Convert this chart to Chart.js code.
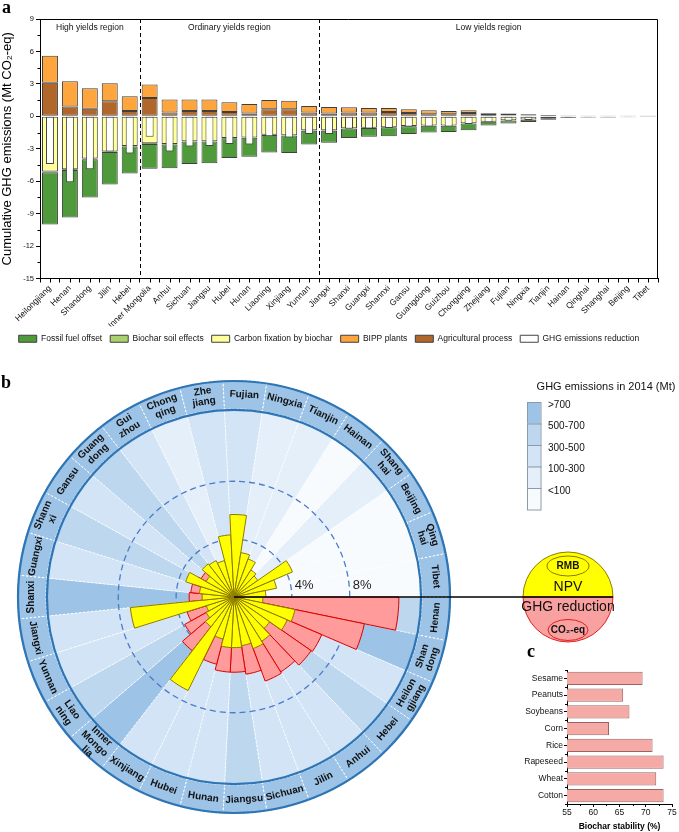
<!DOCTYPE html>
<html><head><meta charset="utf-8">
<script src="https://cdn.jsdelivr.net/npm/chart.js@4.4.1/dist/chart.umd.min.js"></script>
<style>
html,body{margin:0;padding:0;background:#fff}
body{position:relative;width:679px;height:832px;overflow:hidden}
canvas{position:absolute;display:block}
</style></head><body>
<canvas id="ca" width="679" height="358" style="left:0;top:0"></canvas>
<canvas id="cb" width="679" height="462" style="left:0;top:370px"></canvas>
<canvas id="cc" width="199" height="192" style="left:480px;top:640px"></canvas>
<script>
Chart.defaults.font.family = '"Liberation Sans", Arial, Helvetica, sans-serif';
Chart.defaults.color = '#111';

// ---------------- Panel a data ----------------
const provincesA = ['Heilongjiang','Henan','Shandong','Jilin','Hebei','Inner Mongolia','Anhui','Sichuan','Jiangsu','Hubei','Hunan','Liaoning','Xinjiang','Yunnan','Jiangxi','Shanxi','Guangxi','Shannxi','Gansu','Guangdong','Guizhou','Chongqing','Zhejiang','Fujian','Ningxia','Tianjin','Hainan','Qinghai','Shanghai','Beijing','Tibet'];
const agriProcess    = [3.1,0.9,0.7,1.4,0.5,1.7,0.35,0.5,0.5,0.4,0.25,0.65,0.65,0.35,0.25,0.35,0.35,0.4,0.3,0.2,0.2,0.3,0.12,0.1,0.08,0.04,0.03,0.02,0.02,0.02,0.01];
const bippPlants     = [2.5,2.35,1.9,1.65,1.35,1.25,1.2,1.05,1.05,0.9,0.9,0.85,0.8,0.6,0.6,0.49,0.43,0.38,0.36,0.36,0.3,0.26,0.16,0.15,0.11,0.06,0.02,0.02,0.01,0.01,0.01];
const carbonFixation = [-5.1,-4.9,-3.9,-3.25,-2.75,-2.5,-2.55,-2.3,-2.3,-2.0,-1.95,-1.7,-1.75,-1.3,-1.3,-1.1,-1.05,-1.0,-0.9,-0.85,-0.85,-0.65,-0.5,-0.37,-0.3,-0.18,-0.08,-0.06,-0.05,-0.05,-0.03];
const soilEffects    = [-0.08,-0.07,-0.06,-0.06,-0.05,-0.05,-0.05,-0.04,-0.04,-0.04,-0.04,-0.03,-0.03,-0.03,-0.03,-0.02,-0.02,-0.02,-0.02,-0.02,-0.02,-0.02,-0.01,-0.01,-0.01,-0.01,0,0,0,0,0];
const fossilOffset   = [-4.82,-4.38,-3.54,-2.99,-2.5,-2.3,-2.2,-2.06,-2.01,-1.81,-1.76,-1.62,-1.62,-1.27,-1.12,-0.88,-0.83,-0.83,-0.71,-0.63,-0.58,-0.61,-0.33,-0.28,-0.22,-0.12,-0.07,-0.06,-0.05,-0.04,-0.03];
const ghgReduction   = [-4.4,-6.1,-4.9,-3.25,-3.45,-1.9,-3.25,-2.8,-2.75,-2.55,-2.6,-1.84,-1.97,-1.63,-1.63,-1.16,-1.12,-1.07,-0.97,-0.94,-0.95,-0.72,-0.56,-0.41,-0.34,-0.21,-0.1,-0.08,-0.07,-0.06,-0.04];
const yTicksA = [-15,-12,-9,-6,-3,0,3,6,9];
const regionNames = ['High yields region','Ordinary yields region','Low yields region'];
const regionStarts = [0,5,14];

// ---------------- Panel b data ----------------
const provincesB = ['Henan','Shandong','Heilongjiang','Hebei','Anhui','Jilin','Sichuan','Jiangsu','Hunan','Hubei','Xinjiang','Inner Mongolia','Liaoning','Yunnan','Jiangxi','Shanxi','Guangxi','Shannxi','Gansu','Guangdong','Guizhou','Chongqing','Zhejiang','Fujian','Ningxia','Tianjin','Hainan','Shanghai','Beijing','Qinghai','Tibet'];
const ringLabels = ['Henan','Shan\ndong','Heilon\ngjiang','Hebei','Anhui','Jilin','Sichuan','Jiangsu','Hunan','Hubei','Xinjiang','Inner\nMongo\nlia','Liao\nning','Yunnan','Jiangxi','Shanxi','Guangxi','Shann\nxi','Gansu','Guang\ndong','Gui\nzhou','Chong\nqing','Zhe\njiang','Fujian','Ningxia','Tianjin','Hainan','Shang\nhai','Beijing','Qing\nhai','Tibet'];
const ghgShare = [11.4,9.2,6.6,6.5,6.1,6.2,5.4,5.2,5.2,4.8,5.0,4.7,3.9,3.4,3.2,3.1,3.0,2.8,2.6,2.4,2.2,1.7,1.2,0.9,0.7,0.5,0.25,0.15,0.12,0.1,0.05];
const npvShare = [2.0,4.3,4.0,3.0,3.6,3.8,3.4,3.5,3.5,3.0,7.2,2.6,2.2,2.0,7.2,2.2,2.4,3.5,2.2,2.9,2.8,2.6,4.3,5.7,3.1,2.8,2.2,2.0,4.4,3.0,2.2];
const emissionClass = [1,0,2,1,2,2,2,1,2,2,2,0,1,2,2,0,2,1,2,1,2,3,2,2,3,3,4,3,4,4,4];
const emissionClassLabels = ['>700','500-700','300-500','100-300','<100'];
const emissionClassColors = ['#9dc3e6','#bdd7ee','#d2e4f5','#e5eff9','#f8fbfe'];
const radialTicks = [4,8];
const sectorRadius = 13, ringRadius = 15;

// ---------------- Panel c data ----------------
const crops = ['Sesame','Peanuts','Soybeans','Corn','Rice','Rapeseed','Wheat','Cotton'];
const stability = [69.4,65.7,66.9,63.0,71.3,73.4,72.0,73.4];
const xTicksC = [55,60,65,70,75];

// =============== Panel a ===============
const segBorder = '#3f3f3f';
const panelAPlugin = {
  id:'panelA',
  afterDraw(chart){
    const {ctx, chartArea:ca, scales:{x,y}} = chart;
    ctx.save();
    ctx.strokeStyle = '#000'; ctx.lineWidth = 1;
    ctx.beginPath();
    ctx.moveTo(ca.left, ca.top+0.5); ctx.lineTo(ca.right-0.5, ca.top+0.5); ctx.lineTo(ca.right-0.5, ca.bottom);
    ctx.stroke();
    for (let k=0;k<yTicksA.length-1;k++){
      const py = Math.round(y.getPixelForValue((yTicksA[k]+yTicksA[k+1])/2))+0.5;
      ctx.beginPath(); ctx.moveTo(ca.left-2.5, py); ctx.lineTo(ca.left, py); ctx.stroke();
    }
    for (let i=0;i<provincesA.length;i++){
      const px = Math.round(x.getPixelForValue(i))+0.5;
      ctx.beginPath(); ctx.moveTo(px, ca.bottom); ctx.lineTo(px, ca.bottom+4); ctx.stroke();
    }
    const bound = k => k<=0 ? ca.left : (k>=provincesA.length ? ca.right : (x.getPixelForValue(k-1)+x.getPixelForValue(k))/2);
    ctx.setLineDash([4,3]);
    for (let r=1;r<regionStarts.length;r++){
      const px = Math.round(bound(regionStarts[r]))+0.5;
      ctx.beginPath(); ctx.moveTo(px, ca.top); ctx.lineTo(px, ca.bottom); ctx.stroke();
    }
    ctx.setLineDash([]);
    ctx.fillStyle = '#111'; ctx.font = '8.5px "Liberation Sans", Arial, sans-serif';
    ctx.textAlign = 'center'; ctx.textBaseline = 'middle';
    for (let r=0;r<regionStarts.length;r++){
      const a = bound(regionStarts[r]);
      const b = bound(r+1<regionStarts.length ? regionStarts[r+1] : provincesA.length);
      ctx.fillText(regionNames[r], (a+b)/2, ca.top+9);
    }
    ctx.font = 'bold 18px "Liberation Serif", "Times New Roman", serif';
    ctx.textAlign = 'left'; ctx.textBaseline = 'alphabetic'; ctx.fillStyle='#000';
    ctx.fillText('a', 2, 13);
    ctx.restore();
  }
};

new Chart(document.getElementById('ca'), {
  type:'bar',
  data:{
    labels: provincesA,
    datasets:[
      {label:'Fossil fuel offset', data:fossilOffset, backgroundColor:'#4f9a3b', borderColor:segBorder, borderWidth:1, order:3, stack:'s'},
      {label:'Biochar soil effects', data:soilEffects, backgroundColor:'#a9d26c', borderColor:segBorder, borderWidth:1, order:2, stack:'s'},
      {label:'Carbon fixation by biochar', data:carbonFixation, backgroundColor:'#ffff9c', borderColor:segBorder, borderWidth:1, order:1, stack:'s'},
      {label:'BIPP plants', data:bippPlants, backgroundColor:'#ffa53d', borderColor:segBorder, borderWidth:1, order:5, stack:'s'},
      {label:'Agricultural process', data:agriProcess, backgroundColor:'#b2672a', borderColor:segBorder, borderWidth:1, order:4, stack:'s'},
      {label:'GHG emissions reduction', data:ghgReduction, backgroundColor:'#ffffff', borderColor:'#444', borderWidth:1, order:0, stack:'w', barPercentage:0.4}
    ]
  },
  options:{
    responsive:false, animation:false,
    layout:{padding:{left:0,right:21,top:19,bottom:5}},
    datasets:{bar:{grouped:false, categoryPercentage:1, barPercentage:0.8, borderSkipped:false}},
    plugins:{
      tooltip:{enabled:false},
      legend:{position:'bottom', labels:{boxWidth:18, boxHeight:7, padding:8, color:'#111', font:{size:8.5},
        sort:(a,b)=>a.datasetIndex-b.datasetIndex}}
    },
    scales:{
      x:{stacked:true, offset:true,
         grid:{drawOnChartArea:false, drawTicks:true, tickLength:4, color:'#000'},
         border:{color:'#000', width:1},
         ticks:{autoSkip:false, minRotation:45, maxRotation:45, font:{size:8.5}, color:'#111', padding:1},
         afterFit(s){ s.height = 48; }},
      y:{stacked:true, min:-15, max:9,
         afterBuildTicks(s){ s.ticks = yTicksA.map(v=>({value:v})); },
         grid:{drawOnChartArea:false, drawTicks:true, tickLength:4, color:'#000'},
         border:{color:'#000', width:1},
         ticks:{font:{size:7.5}, color:'#111', padding:2},
         title:{display:true, text:'Cumulative GHG emissions (Mt CO\u2082-eq)', font:{size:13}, color:'#000', padding:{top:0,bottom:1}},
         afterFit(s){ s.width = 40; }}
    }
  },
  plugins:[panelAPlugin]
});

// =============== Panel b ===============
const panelBPlugin = {
  id:'panelB',
  afterDatasetDraw(chart, args){
    if (args.index !== 2) return;
    const s = chart.scales.r, ctx = chart.ctx;
    ctx.save();
    ctx.strokeStyle = '#4a7cc9'; ctx.lineWidth = 1.3; ctx.setLineDash([6,4]);
    radialTicks.forEach(v=>{
      ctx.beginPath(); ctx.arc(s.xCenter, s.yCenter, s.getDistanceFromCenterForValue(v), 0, 2*Math.PI); ctx.stroke();
    });
    ctx.setLineDash([]); ctx.strokeStyle = '#2e75b6'; ctx.lineWidth = 2.2;
    [sectorRadius, ringRadius].forEach(v=>{
      ctx.beginPath(); ctx.arc(s.xCenter, s.yCenter, s.getDistanceFromCenterForValue(v)-1, 0, 2*Math.PI); ctx.stroke();
    });
    ctx.restore();
  },
  afterDraw(chart){
    const s = chart.scales.r, ctx = chart.ctx;
    ctx.save();
    const meta = chart.getDatasetMeta(3);
    const rr = s.getDistanceFromCenterForValue((sectorRadius+ringRadius)/2);
    ctx.fillStyle = '#111'; ctx.font = 'bold 10px "Liberation Sans", Arial, sans-serif';
    ctx.textAlign = 'center'; ctx.textBaseline = 'middle';
    meta.data.forEach((arc,i)=>{
      const p = arc.getProps(['startAngle','endAngle'], true);
      let mid = (p.startAngle+p.endAngle)/2;
      mid = ((mid % (2*Math.PI)) + 2*Math.PI) % (2*Math.PI);
      const px = s.xCenter + rr*Math.cos(mid), py = s.yCenter + rr*Math.sin(mid);
      const rot = mid < Math.PI ? mid - Math.PI/2 : mid + Math.PI/2;
      ctx.save(); ctx.translate(px,py); ctx.rotate(rot);
      const lines = ringLabels[i].split('\n'), lh = 10.5;
      lines.forEach((ln,k)=>ctx.fillText(ln, 0, (k-(lines.length-1)/2)*lh));
      ctx.restore();
    });
    ctx.font = '13px "Liberation Sans", Arial, sans-serif'; ctx.fillStyle = '#222';
    ctx.textAlign = 'left'; ctx.textBaseline = 'alphabetic';
    radialTicks.forEach(v=>ctx.fillText(v+'%', s.xCenter + s.getDistanceFromCenterForValue(v)+3, s.yCenter-8));

    // NPV / GHG reduction key circle
    const cx = 568, cy = s.yCenter, R = 45;
    ctx.beginPath(); ctx.arc(cx, cy, R, Math.PI, 2*Math.PI); ctx.closePath();
    ctx.fillStyle = '#ffff00'; ctx.fill(); ctx.strokeStyle = '#8c7a00'; ctx.lineWidth = 1; ctx.stroke();
    ctx.beginPath(); ctx.arc(cx, cy, R, 0, Math.PI); ctx.closePath();
    ctx.fillStyle = '#f9a0a0'; ctx.fill(); ctx.strokeStyle = '#e02020'; ctx.stroke();
    ctx.beginPath(); ctx.ellipse(cx, cy-31, 21, 10, 0, 0, 2*Math.PI); ctx.strokeStyle = '#8c7a00'; ctx.stroke();
    ctx.beginPath(); ctx.ellipse(cx, cy+33, 20, 10.5, 0, 0, 2*Math.PI); ctx.strokeStyle = '#e02020'; ctx.stroke();
    ctx.fillStyle = '#111'; ctx.textAlign = 'center'; ctx.textBaseline = 'middle';
    ctx.font = 'bold 10px "Liberation Sans", Arial, sans-serif';
    ctx.fillText('RMB', cx, cy-31);
    ctx.fillText('CO\u2082-eq', cx, cy+33);
    ctx.font = '14px "Liberation Sans", Arial, sans-serif';
    ctx.fillText('NPV', cx, cy-10);
    ctx.fillText('GHG reduction', cx, cy+10);
    ctx.strokeStyle = '#000'; ctx.lineWidth = 1.4;
    ctx.beginPath(); ctx.moveTo(s.xCenter, cy); ctx.lineTo(cx+R, cy); ctx.stroke();

    // emission legend
    ctx.font = '11px "Liberation Sans", Arial, sans-serif'; ctx.fillStyle = '#111';
    ctx.textAlign = 'center'; ctx.textBaseline = 'alphabetic';
    ctx.fillText('GHG emissions in 2014 (Mt)', 606, 20);
    const bx = 527, by = 32, bw = 13.5, bh = 21.5;
    ctx.font = '10px "Liberation Sans", Arial, sans-serif'; ctx.textAlign = 'left'; ctx.textBaseline = 'middle';
    emissionClassLabels.forEach((lab,k)=>{
      ctx.fillStyle = emissionClassColors[k];
      ctx.fillRect(bx, by+k*bh, bw, bh);
      ctx.strokeStyle = '#8a9aae'; ctx.lineWidth = 1;
      ctx.strokeRect(bx+0.5, by+k*bh+0.5, bw, bh);
      ctx.fillStyle = '#111';
      ctx.fillText(lab, bx+21, by+k*bh+3);
    });
    ctx.font = 'bold 18px "Liberation Serif", "Times New Roman", serif';
    ctx.fillStyle = '#000'; ctx.textAlign = 'left'; ctx.textBaseline = 'alphabetic';
    ctx.fillText('b', 1, 18);
    ctx.restore();
  }
};

new Chart(document.getElementById('cb'), {
  type:'polarArea',
  data:{
    labels: provincesB,
    datasets:[
      {label:'NPV', data:npvShare, backgroundColor:'#ffff00', borderColor:'#8c7a00', borderWidth:1, order:0},
      {label:'GHG reduction', data:ghgShare, backgroundColor:'#ff9b9b', borderColor:'#dd0000', borderWidth:1, order:1},
      {label:'GHG emissions in 2014', data:provincesB.map(()=>sectorRadius), backgroundColor:emissionClass.map(c=>emissionClassColors[c]), borderColor:'#ffffff', borderWidth:1, borderDash:[2,2], order:2},
      {label:'ring', data:provincesB.map(()=>ringRadius), backgroundColor:'#9dc3e6', borderColor:'#ffffff', borderWidth:1, borderDash:[2,2], order:3}
    ]
  },
  options:{
    responsive:false, animation:false,
    layout:{padding:{left:17,top:10,right:228,bottom:18}},
    plugins:{legend:{display:false}, tooltip:{enabled:false}},
    scales:{r:{min:0, max:ringRadius, startAngle:90,
      ticks:{display:false}, grid:{display:false}, angleLines:{display:false}, pointLabels:{display:false}}}
  },
  plugins:[panelBPlugin]
});

// =============== Panel c ===============
const panelCPlugin = {
  id:'panelC',
  afterDraw(chart){
    const {ctx, chartArea:ca, scales:{x,y}} = chart;
    ctx.save(); ctx.strokeStyle = '#000'; ctx.lineWidth = 1;
    for (let k=0;k<xTicksC.length-1;k++){
      const px = Math.round(x.getPixelForValue((xTicksC[k]+xTicksC[k+1])/2))+0.5;
      ctx.beginPath(); ctx.moveTo(px, ca.bottom); ctx.lineTo(px, ca.bottom+2); ctx.stroke();
    }
    for (let i=0;i<=crops.length;i++){
      const py = Math.round(i===0 ? ca.top : (i===crops.length ? ca.bottom : (y.getPixelForValue(i-1)+y.getPixelForValue(i))/2))+0.5;
      ctx.beginPath(); ctx.moveTo(ca.left-2, py); ctx.lineTo(ca.left, py); ctx.stroke();
    }
    ctx.font = 'bold 18px "Liberation Serif", "Times New Roman", serif';
    ctx.fillStyle = '#000'; ctx.textAlign='left'; ctx.textBaseline='alphabetic';
    ctx.fillText('c', 47, 17);
    ctx.restore();
  }
};

new Chart(document.getElementById('cc'), {
  type:'bar',
  data:{labels:crops, datasets:[{data:stability, backgroundColor:'#f5aaa5', borderColor:'#9a6464', borderWidth:1, barPercentage:0.78, categoryPercentage:1}]},
  options:{
    indexAxis:'y', responsive:false, animation:false,
    layout:{padding:{left:0,right:7,top:30,bottom:0}},
    plugins:{legend:{display:false}, tooltip:{enabled:false}},
    scales:{
      x:{min:55, max:75,
         afterBuildTicks(s){ s.ticks = xTicksC.map(v=>({value:v})); },
         ticks:{font:{size:8.5}, color:'#111', padding:1},
         grid:{drawOnChartArea:false, tickLength:3, color:'#000'},
         border:{color:'#000'},
         title:{display:true, text:'Biochar stability (%)', font:{size:8.5, weight:'bold'}, color:'#000', padding:{top:1,bottom:0}},
         afterFit(s){ s.height = 28; }},
      y:{ticks:{font:{size:8.5}, color:'#111', padding:1},
         grid:{drawOnChartArea:false, tickLength:3, color:'#000', offset:false},
         border:{color:'#000'},
         afterFit(s){ s.width = 87; }}
    }
  },
  plugins:[panelCPlugin]
});
</script>
</body></html>
